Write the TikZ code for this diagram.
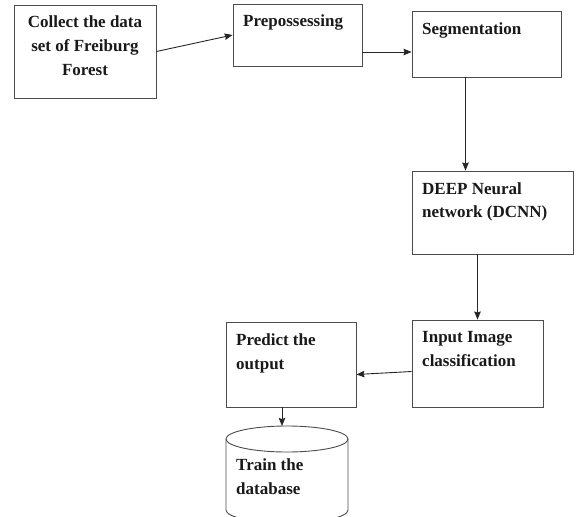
\documentclass[tikz,border=0pt]{standalone}
\usepackage{fontspec}
\setmainfont{Liberation Serif}
\usetikzlibrary{arrows.meta}
\begin{document}
\begin{tikzpicture}[x=1pt,y=-1pt,
  box/.style={draw=black!70, line width=0.9pt, rectangle, inner sep=0pt},
  txt/.style={inner sep=0pt, font=\fontsize{17}{24}\selectfont\bfseries, text=black!90},
  conn/.style={draw=black!85, line width=0.9pt, -{Stealth[length=8pt,width=6.5pt,inset=1pt]}}]
\useasboundingbox (0,0) rectangle (576,517);
% boxes
\node[box, minimum width=142pt, minimum height=93pt] (b1) at (85,51.5) {};
\node[box, minimum width=129pt, minimum height=62pt] (b2) at (297.5,35) {};
\node[box, minimum width=149pt, minimum height=66pt] (b3) at (486.5,44) {};
\node[box, minimum width=161pt, minimum height=83pt] (dcnn) at (492.5,212.5) {};
\node[box, minimum width=131pt, minimum height=87pt] (inp) at (477.5,363.5) {};
\node[box, minimum width=130pt, minimum height=85pt] (pred) at (291,364.5) {};
% cylinder
\draw[black!70, line width=0.9pt] (287,439) ellipse [x radius=61pt, y radius=13pt];
\draw[black!70, line width=0.9pt] (226,439) -- (226,510)
  arc[start angle=180, end angle=360, x radius=61pt, y radius=13pt] -- (348,439);
\coordinate (dbtop) at (282,426);
% texts
\node[txt, align=center, anchor=north] (t1) at (85,16) {Collect the data\\set of Freiburg\\Forest};
\node[txt, anchor=north west] (t2) at (243,15) {Prepossessing};
\node[txt, anchor=north west] (t3) at (422,23) {Segmentation};
\node[txt, align=left, anchor=north west] (t4) at (422,182) {DEEP Neural\\network (DCNN)};
\node[txt, align=left, anchor=north west] (t5) at (422,331) {Input Image\\classification};
\node[txt, align=left, anchor=north west] (t6) at (236,333) {Predict the\\output};
\node[txt, align=left, anchor=north west] (t7) at (236,458) {Train the\\database};
% connectors
\draw[conn] (b1.east) -- (b2.west);
\draw[conn] ([yshift=-17pt]b2.east) -- ([yshift=-17pt]b2.east -| b3.west);
\draw[conn] ([xshift=-21pt]b3.south) -- ([xshift=-21pt]b3.south |- dcnn.north);
\draw[conn] (dcnn.south -| inp.north) -- (inp.north);
\draw[conn] ([yshift=-8pt]inp.west) -- ([yshift=-10pt]pred.east);
\draw[conn] ([xshift=-9pt]pred.south) -- (dbtop);
\end{tikzpicture}
\end{document}
